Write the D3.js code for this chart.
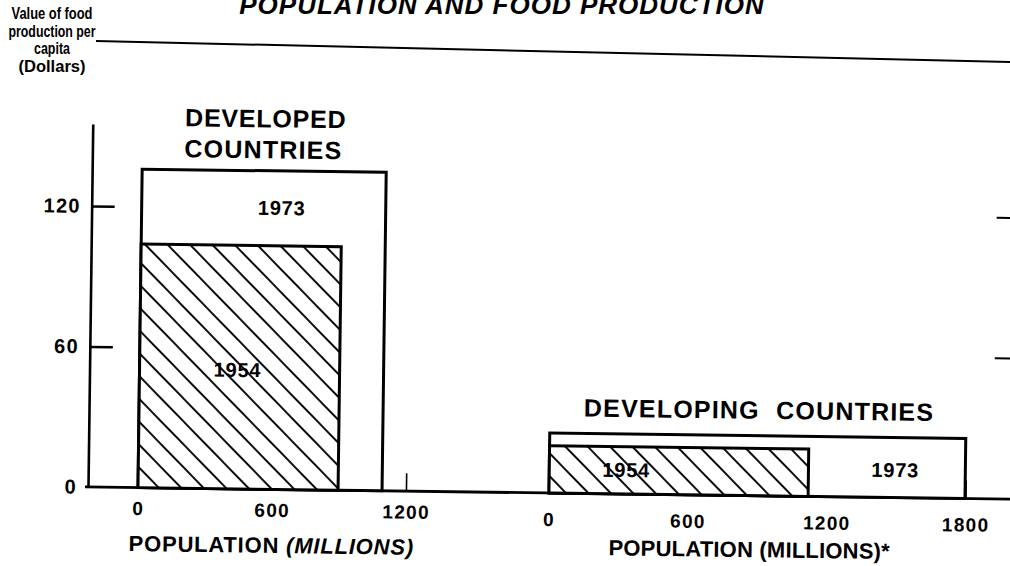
<!DOCTYPE html>
<html><head><meta charset="utf-8">
<script src="https://cdn.jsdelivr.net/npm/d3@7"></script>
<style>html,body{margin:0;padding:0;background:#fff;} svg{display:block}</style>
</head><body>
<svg id="chart" width="1010" height="566"></svg>
<script>
// ---------- data ----------
const panels = ["DEVELOPED COUNTRIES", "DEVELOPING  COUNTRIES"];
const years = ["1954", "1973"];
const population1954 = [896, 1120];     // millions
const population1973 = [1093, 1798];    // millions
const foodValue1954 = [104, 20.2];      // dollars per capita
const foodValue1973 = [136, 25.6];      // dollars per capita
const yTicks = [0, 60, 120];
const rightEdgeTicks = [60, 120];
const xTicksDeveloped = [0, 600, 1200];
const xTicksDeveloping = [0, 600, 1200, 1800];
const xAxisTitles = ["POPULATION ", "POPULATION "];
const xAxisTitleTails = ["(MILLIONS)", "(MILLIONS)*"];
const yAxisTitle = ["Value of food", "production per", "capita", "(Dollars)"];
const chartTitle = "POPULATION AND FOOD PRODUCTION";

// ---------- layout ----------
const svg = d3.select("#chart");
const FONT = "'Liberation Sans', Arial, Helvetica, sans-serif";
const base = 487;

const defs = svg.append("defs");
const pat = defs.append("pattern").attr("id", "hatch")
  .attr("patternUnits", "userSpaceOnUse").attr("width", 16).attr("height", 16)
  .attr("patternTransform", "rotate(45)");
pat.append("rect").attr("width", 16).attr("height", 16).attr("fill", "#fff");
pat.append("line").attr("x1", 0).attr("x2", 16).attr("y1", 8).attr("y2", 8)
  .attr("stroke", "#000").attr("stroke-width", 1.9);

// title (cut by top edge as in the scan), y-title and top rule: unrotated
svg.append("text").attr("x", 502).attr("y", 14).attr("text-anchor", "middle")
  .attr("font-family", FONT).attr("font-weight", "bold").attr("font-style", "italic")
  .attr("font-size", 26).attr("letter-spacing", 1).text(chartTitle);

const yTitleLayout = [{b: 19, w: 81}, {b: 37, w: 87}, {b: 54, w: 36}, {b: 72, w: 67}];
svg.append("g").selectAll("text").data(yAxisTitle).join("text")
  .attr("x", 52).attr("y", (d, i) => yTitleLayout[i].b)
  .attr("text-anchor", "middle").attr("font-family", FONT).attr("font-weight", "bold")
  .attr("font-size", 17).attr("textLength", (d, i) => yTitleLayout[i].w)
  .attr("lengthAdjust", "spacingAndGlyphs").text(d => d);

svg.append("line").attr("x1", 96).attr("y1", 41).attr("x2", 1012).attr("y2", 62)
  .attr("stroke", "#000").attr("stroke-width", 2);

// rotated group (the scan is tilted slightly)
const g = svg.append("g").attr("transform", `rotate(0.75,90,${base})`);

const y = d3.scaleLinear().domain([0, 155]).range([base, 124]);
const xScales = [
  d3.scaleLinear().domain([0, 1200]).range([138, 138 + 1200 * 0.2233]),
  d3.scaleLinear().domain([0, 1800]).range([549, 549 + 1800 * 0.2314])
];
const xTickSets = [xTicksDeveloped, xTicksDeveloping];

// y axis
const yAx = g.append("g").attr("transform", "translate(88,0)")
  .call(d3.axisLeft(y).tickValues(yTicks).tickSize(-23).tickSizeOuter(0).tickPadding(11));
yAx.select(".domain").attr("stroke-width", 2.6);
yAx.selectAll(".tick line").attr("stroke-width", 2.4);
yAx.selectAll(".tick").filter(d => d === 0).select("line").remove();
yAx.selectAll("text").attr("font-family", FONT).attr("font-weight", "bold")
  .attr("font-size", 20).attr("letter-spacing", 1.2).attr("fill", "#000");

// right-edge ticks
g.append("g").selectAll("line").data(rightEdgeTicks).join("line")
  .attr("x1", 993).attr("x2", 1012).attr("y1", d => y(d)).attr("y2", d => y(d))
  .attr("stroke", "#000").attr("stroke-width", 2);

// baseline
g.append("line").attr("x1", 85).attr("x2", 1015).attr("y1", y(0)).attr("y2", y(0))
  .attr("stroke", "#000").attr("stroke-width", 2.8);

// x axes
const labelDrop = [27.5, 33];
xScales.forEach((xs, i) => {
  const ax = g.append("g").attr("transform", `translate(0,${base})`)
    .call(d3.axisBottom(xs).tickValues(xTickSets[i]).tickSize(-18).tickSizeOuter(0)
      .tickFormat(d3.format("d")));
  ax.select(".domain").remove();
  ax.selectAll(".tick line").attr("stroke-width", 1.6);
  ax.selectAll("text").attr("dy", null).attr("y", labelDrop[i])
    .attr("font-family", FONT).attr("font-weight", "bold").attr("font-size", 19)
    .attr("letter-spacing", 1.3).attr("fill", "#000");
});

// bars
xScales.forEach((xs, i) => {
  const bars = [
    {year: years[1], pop: population1973[i], val: foodValue1973[i], fill: "#fff"},
    {year: years[0], pop: population1954[i], val: foodValue1954[i], fill: "url(#hatch)"}
  ];
  g.append("g").selectAll("rect").data(bars).join("rect")
    .attr("x", xs(0)).attr("width", d => xs(d.pop) - xs(0))
    .attr("y", d => y(d.val)).attr("height", d => y(0) - y(d.val))
    .attr("fill", d => d.fill).attr("stroke", "#000").attr("stroke-width", 3);
});

// year labels inside the bars
const yearLabels = [
  {t: years[1], x: 278, y: 212.5}, {t: years[0], x: 236, y: 375},
  {t: years[0], x: 626, y: 470}, {t: years[1], x: 895, y: 466.5}
];
g.append("g").selectAll("text").data(yearLabels).join("text")
  .attr("x", d => d.x).attr("y", d => d.y).attr("text-anchor", "middle")
  .attr("font-family", FONT).attr("font-weight", "bold").attr("font-size", 20)
  .attr("letter-spacing", 0.8).text(d => d.t);

// panel headings
const devWords = panels[0].split(" ");
g.append("text").attr("x", 261).attr("y", 125).attr("text-anchor", "middle")
  .attr("font-family", FONT).attr("font-weight", "bold").attr("font-size", 25)
  .attr("letter-spacing", 0.8).text(devWords[0]);
g.append("text").attr("x", 259).attr("y", 156).attr("text-anchor", "middle")
  .attr("font-family", FONT).attr("font-weight", "bold").attr("font-size", 25)
  .attr("letter-spacing", 1.2).text(devWords[1]);
g.append("text").attr("x", 758).attr("y", 410).attr("text-anchor", "middle")
  .style("white-space", "pre")
  .attr("font-family", FONT).attr("font-weight", "bold").attr("font-size", 25)
  .attr("letter-spacing", 1.2).text(panels[1]);

// x axis titles
const titlePos = [{x: 272, y: 550.5, ls: 0.8}, {x: 750, y: 548.5, ls: 0.2}];
titlePos.forEach((p, i) => {
  const t = g.append("text").attr("x", p.x).attr("y", p.y).attr("text-anchor", "middle")
    .style("white-space", "pre")
    .attr("font-family", FONT).attr("font-weight", "bold").attr("font-size", 22)
    .attr("letter-spacing", p.ls);
  t.append("tspan").text(xAxisTitles[i]);
  t.append("tspan").attr("font-style", i === 0 ? "italic" : "normal").text(xAxisTitleTails[i]);
});
</script></body></html>
